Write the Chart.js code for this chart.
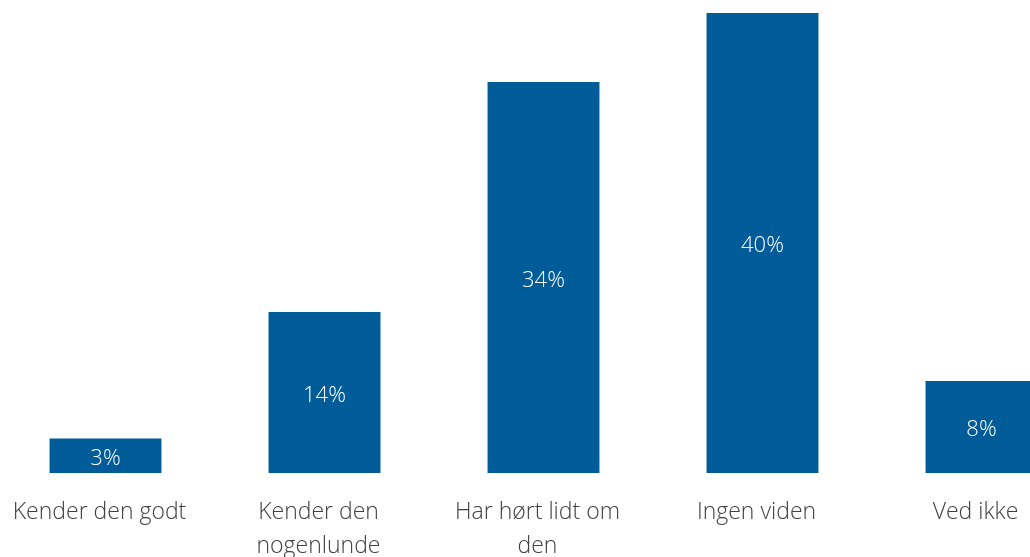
<!DOCTYPE html>
<html>
<head>
<meta charset="utf-8">
<script src="https://cdn.jsdelivr.net/npm/chart.js@4/dist/chart.umd.min.js"></script>
<style>
  html, body { margin: 0; padding: 0; background: #fff; overflow: hidden; }
  #wrap { position: absolute; left: -4px; top: 0; width: 1095px; height: 557px; }
</style>
</head>
<body>
<div id="wrap"><canvas id="myChart"></canvas></div>
<script>
// survey answers, share of respondents in %
const categories = [
    "Kender den godt",
    ["Kender den", "nogenlunde"],
    ["Har hørt lidt om", "den"],
    "Ingen viden",
    "Ved ikke"
];
const shares = [3, 14, 34, 40, 8];

const barColor = "#005b99";
const fontFamily = "'Open Sans', 'Segoe UI', sans-serif";

// white % labels in the middle of each bar
const barLabels = {
    id: "barLabels",
    afterDatasetsDraw(chart) {
        const ctx = chart.ctx;
        const meta = chart.getDatasetMeta(0);
        ctx.save();
        ctx.fillStyle = "#ffffff";
        ctx.font = "300 22px " + fontFamily;
        ctx.textAlign = "center";
        ctx.textBaseline = "middle";
        meta.data.forEach((bar, i) => {
            const mid = (bar.y + bar.base) / 2;
            ctx.fillText(shares[i] + "%", bar.x, mid + 3);
        });
        ctx.restore();
    }
};

const myChart = new Chart("myChart", {
    type: "bar",
    data: {
        labels: categories,
        datasets: [{
            data: shares,
            backgroundColor: barColor,
            borderWidth: 0,
            categoryPercentage: 1,
            barPercentage: 0.511
        }]
    },
    options: {
        responsive: true,
        maintainAspectRatio: false,
        animation: false,
        layout: { padding: { top: 13, left: 0, right: 0, bottom: 0 } },
        plugins: {
            legend: { display: false },
            tooltip: { enabled: false }
        },
        scales: {
            x: {
                grid: { display: false },
                border: { display: false },
                ticks: {
                    color: "#404040",
                    padding: 15,
                    labelOffset: -6,
                    maxRotation: 0,
                    autoSkip: false,
                    font: { family: fontFamily, size: 23, weight: 300, lineHeight: 1.45 }
                },
                afterFit(scale) { scale.height = 84; }
            },
            y: {
                display: false,
                min: 0,
                max: 40
            }
        }
    },
    plugins: [barLabels]
});
</script>
</body>
</html>
